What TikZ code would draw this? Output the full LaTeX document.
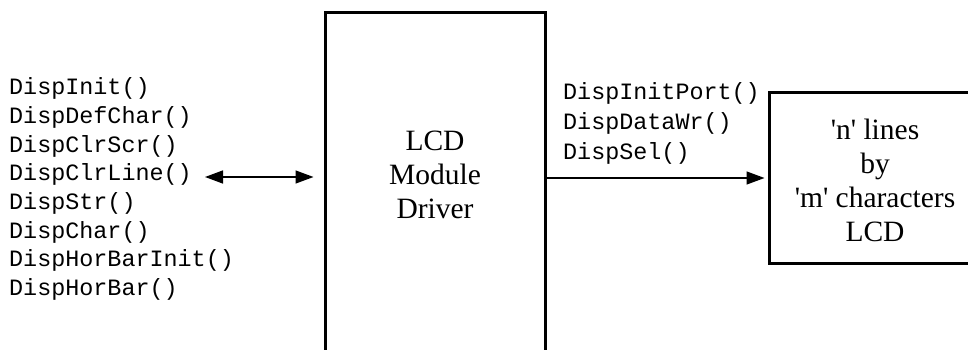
\documentclass[tikz,border=0pt]{standalone}
\usepackage{fontspec}
\newfontfamily\mono{Liberation Mono}
\newfontfamily\serif{Liberation Serif}
\usetikzlibrary{arrows.meta}
\begin{document}
\begin{tikzpicture}[x=1pt,y=-1pt,
  box/.style={draw=black, line width=3pt},
  code/.style={font=\mono\fontsize{23.4}{28.7}\selectfont, align=left, inner sep=0pt, anchor=west},
  code2/.style={font=\mono\fontsize{23.4}{30}\selectfont, align=left, inner sep=0pt, anchor=west},
  lbl/.style={font=\serif\fontsize{29.5}{34}\selectfont, align=center, inner sep=0pt},
  conn/.style={line width=1.4pt, -{Triangle[length=18pt,width=13pt]}},
  conn2/.style={line width=1.4pt, {Triangle[length=18pt,width=13pt]}-{Triangle[length=18pt,width=13pt]}}]
\useasboundingbox (0,0) rectangle (968,350);
\clip (0,0) rectangle (968,350);
\fill[white] (0,0) rectangle (968,350);
% boxes (cut off by the picture edge)
\node[box, minimum width=220pt, minimum height=400pt, inner sep=0pt] (drv) at (435,213) {};
\node[box, minimum width=231pt, minimum height=170pt, inner sep=0pt] (lcd) at (884.5,178) {};
% texts
\node[lbl] (drvtext) at (435,175) {LCD\\Module\\Driver};
\node[lbl] (lcdtext) at (875,180) {'n' lines\\by\\'m' characters\\LCD};
\node[code] (api) at (9,189) {DispInit()\\DispDefChar()\\DispClrScr()\\DispClrLine()\\DispStr()\\DispChar()\\DispHorBarInit()\\DispHorBar()};
\node[code2] (hw) at (563,123) {DispInitPort()\\DispDataWr()\\DispSel()};
% connectors
\coordinate (a1) at (205,177);
\draw[conn2] (a1) -- ([xshift=-10pt]a1 -| drv.west);
\draw[conn] (drv.east |- lcd.west) -- ([xshift=-3pt]lcd.west);
\end{tikzpicture}
\end{document}
